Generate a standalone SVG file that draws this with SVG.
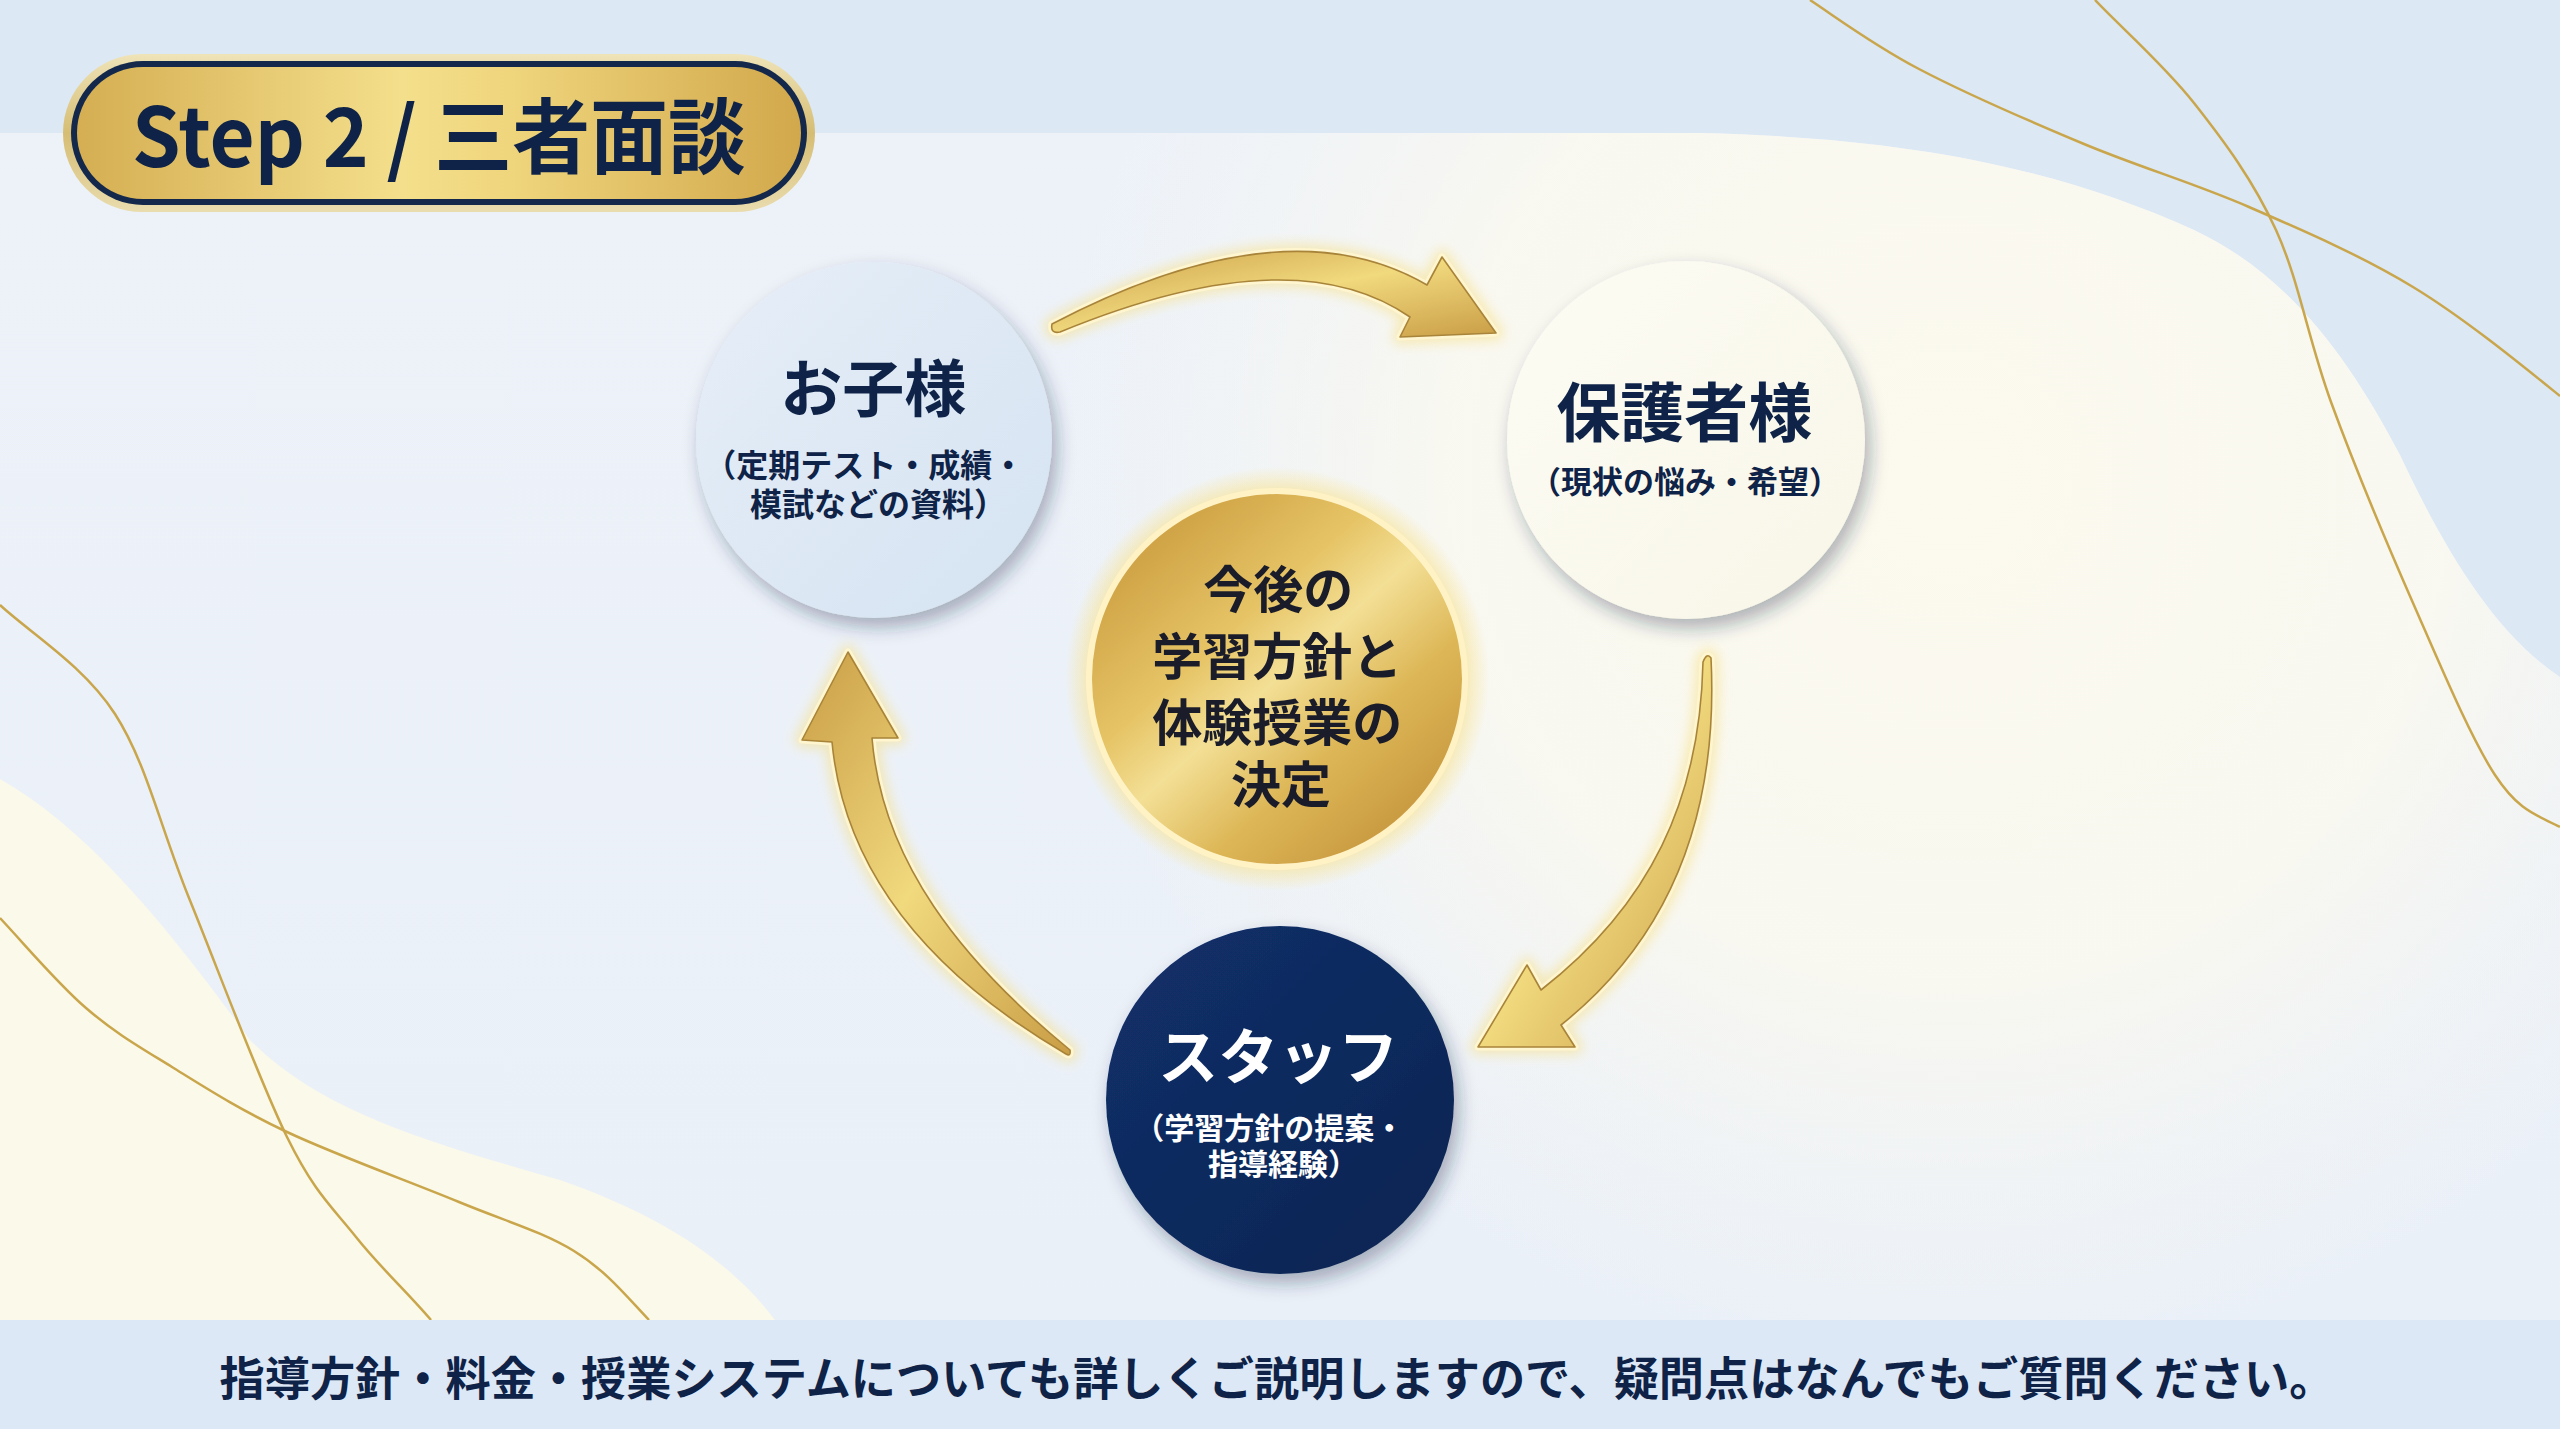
<svg xmlns="http://www.w3.org/2000/svg" width="2560" height="1429" viewBox="0 0 2560 1429">
<defs>
  <style>
    .jp { font-family: "Noto Sans CJK JP", "Noto Sans", sans-serif; font-weight: 700; }
    .navy { fill: #0e2347; }
    .gline { fill: none; stroke: #c9a64c; stroke-width: 2.5; }
    .arrowGlow { fill: none; stroke: #f6e08a; stroke-width: 16; stroke-linejoin: round; opacity: 0.55; filter: url(#blur6); }
    .arrowRim { fill: none; stroke: #fff5cf; stroke-width: 7; stroke-linejoin: round; }
    .arrowBody { fill: url(#arrowGold); stroke: #a8843a; stroke-width: 1.6; stroke-linejoin: round; }
  </style>
  <linearGradient id="mainBg" x1="0" y1="0" x2="0" y2="1">
    <stop offset="0" stop-color="#edf2f9"/>
    <stop offset="1" stop-color="#eaf0f8"/>
  </linearGradient>
  <radialGradient id="creamGlow" cx="1950" cy="480" r="900" gradientUnits="userSpaceOnUse">
    <stop offset="0" stop-color="#fcfaee" stop-opacity="1"/>
    <stop offset="0.55" stop-color="#fbf9ef" stop-opacity="0.85"/>
    <stop offset="1" stop-color="#f6f6f2" stop-opacity="0"/>
  </radialGradient>
  <linearGradient id="pillRim" x1="0" y1="0" x2="0" y2="1">
    <stop offset="0" stop-color="#efe4b8"/>
    <stop offset="0.5" stop-color="#d6bd74"/>
    <stop offset="1" stop-color="#e9dcae"/>
  </linearGradient>
  <linearGradient id="pillGold" x1="0" y1="0" x2="1" y2="0">
    <stop offset="0" stop-color="#d5ae52"/>
    <stop offset="0.45" stop-color="#f4df8c"/>
    <stop offset="0.6" stop-color="#efd57c"/>
    <stop offset="1" stop-color="#d2a84c"/>
  </linearGradient>
  <linearGradient id="arrowGold" x1="0" y1="0" x2="1" y2="1">
    <stop offset="0" stop-color="#c99d45"/>
    <stop offset="0.5" stop-color="#f1d97e"/>
    <stop offset="1" stop-color="#c99d45"/>
  </linearGradient>
  <linearGradient id="centerGold" x1="0.1" y1="0.05" x2="0.9" y2="0.95">
    <stop offset="0" stop-color="#c8993c"/>
    <stop offset="0.35" stop-color="#e6c466"/>
    <stop offset="0.5" stop-color="#f3df95"/>
    <stop offset="0.7" stop-color="#ddb757"/>
    <stop offset="1" stop-color="#c3913a"/>
  </linearGradient>
  <radialGradient id="centerHalo" cx="0.5" cy="0.5" r="0.5">
    <stop offset="0.85" stop-color="#f7e49a" stop-opacity="0.9"/>
    <stop offset="1" stop-color="#f7e49a" stop-opacity="0"/>
  </radialGradient>
  <linearGradient id="childFill" x1="0" y1="0" x2="1" y2="1">
    <stop offset="0" stop-color="#e6eef8"/>
    <stop offset="1" stop-color="#d5e3f1"/>
  </linearGradient>
  <linearGradient id="parentFill" x1="0" y1="0" x2="1" y2="1">
    <stop offset="0" stop-color="#fdfcf4"/>
    <stop offset="1" stop-color="#f8f6e8"/>
  </linearGradient>
  <linearGradient id="staffFill" x1="0" y1="0" x2="1" y2="1">
    <stop offset="0" stop-color="#13306a"/>
    <stop offset="1" stop-color="#0c2452"/>
  </linearGradient>
  <filter id="shadow" x="-20%" y="-20%" width="150%" height="150%">
    <feDropShadow dx="5" dy="9" stdDeviation="9" flood-color="#1c2c4c" flood-opacity="0.35"/>
  </filter>
  <filter id="blur6" x="-20%" y="-20%" width="140%" height="140%">
    <feGaussianBlur stdDeviation="6"/>
  </filter>
  <path id="arrowTop" d="M 1052 324 Q 1285 202 1427 285 L 1442 257 L 1496 333 L 1400 337 L 1410 317 Q 1293 236 1060 332 Q 1050 334 1052 324 Z"/>
  <path id="arrowRight" d="M 1711 658 C 1718 800 1680 930 1561 1025 L 1575 1047 L 1478 1047 L 1527 965 L 1541 990 C 1650 905 1700 800 1703 662 Q 1707 652 1711 658 Z"/>
  <path id="arrowLeft" d="M 1066 1054 C 940 980 845 880 832 742 L 802 740 L 848 652 L 898 738 L 872 738 C 882 860 960 960 1070 1050 Q 1071 1057 1066 1054 Z"/>
</defs>

<!-- background -->
<rect x="0" y="0" width="2560" height="1429" fill="#dce8f4"/>
<path d="M 0 133 L 1700 133 C 1900 138 2050 165 2194 230 C 2290 275 2350 360 2400 455 C 2440 540 2490 630 2560 677 L 2560 1320 L 0 1320 Z" fill="url(#mainBg)"/>
<path d="M 0 133 L 1700 133 C 1900 138 2050 165 2194 230 C 2290 275 2350 360 2400 455 C 2440 540 2490 630 2560 677 L 2560 1320 L 0 1320 Z" fill="url(#creamGlow)"/>
<path d="M 0 779 C 90 830 170 930 250 1040 C 320 1110 420 1140 560 1180 C 660 1215 730 1260 775 1320 L 0 1320 Z" fill="#fbf9e9"/>
<g id="gold-lines">
  <path class="gline" d="M 0 605 C 29.2 632.3 83.5 665.2 115 714 C 146.5 762.8 160.3 827.5 189 898 C 217.7 968.5 259.2 1080.5 287 1137 C 314.8 1193.5 332 1206.7 356 1237 C 380 1267.3 407 1291.8 431 1320"/>
  <path class="gline" d="M 0 918 C 27.7 947.7 57.3 983.2 86 1008 C 114.7 1032.8 138.5 1046.3 172 1067 C 205.5 1087.7 239.2 1109.5 287 1132 C 334.8 1154.5 411.2 1182.2 459 1202 C 506.8 1221.8 542.3 1231.5 574 1251 C 605.7 1270.5 624.7 1294.2 649 1320"/>
  <path class="gline" d="M 1810 0 C 1839.8 19.8 1873.3 45 1919 69 C 1964.7 93 2029 121 2084 144 C 2139 167 2194.2 183.2 2249 207 C 2303.8 230.8 2361.2 255.5 2413 287 C 2464.8 318.5 2522.2 365.5 2560 396"/>
  <path class="gline" d="M 2095 0 C 2120.7 27.2 2163.8 64.7 2194 103 C 2224.2 141.3 2253.2 180.2 2276 230 C 2298.8 279.8 2308.2 339.8 2331 402 C 2353.8 464.2 2385.7 540.8 2413 603 C 2440.3 665.2 2470.5 737.7 2495 775 C 2519.5 812.3 2537.5 815 2560 827"/>
</g>
<rect x="0" y="1320" width="2560" height="109" fill="#dce8f5"/>

<!-- title -->
<g id="title">
  <rect x="63" y="54" width="752" height="158" rx="79" fill="url(#pillRim)"/>
  <rect x="71" y="61" width="736" height="144" rx="72" fill="#13284b"/>
  <rect x="77" y="67" width="724" height="132" rx="66" fill="url(#pillGold)"/>
  <text class="jp navy" x="439" y="167" font-size="82" text-anchor="middle" textLength="614" lengthAdjust="spacingAndGlyphs">Step 2 / 三者面談</text>
</g>

<!-- connectors -->
<g id="connectors">
  <use href="#arrowTop" class="arrowGlow"/>
  <use href="#arrowRight" class="arrowGlow"/>
  <use href="#arrowLeft" class="arrowGlow"/>
  <use href="#arrowTop" class="arrowRim"/>
  <use href="#arrowRight" class="arrowRim"/>
  <use href="#arrowLeft" class="arrowRim"/>
  <use href="#arrowTop" class="arrowBody"/>
  <use href="#arrowRight" class="arrowBody"/>
  <use href="#arrowLeft" class="arrowBody"/>
</g>

<!-- nodes -->
<g id="node-child">
  <circle cx="874" cy="440" r="178" fill="url(#childFill)" filter="url(#shadow)"/>
  <text class="jp navy" text-anchor="middle">
    <tspan x="875" y="412" font-size="62">お子様</tspan>
    <tspan x="866" y="477" font-size="32">（定期テスト・成績・</tspan>
    <tspan x="878" y="516" font-size="32">模試などの資料）</tspan>
  </text>
</g>

<g id="node-parent">
  <circle cx="1686" cy="440" r="179" fill="url(#parentFill)" filter="url(#shadow)"/>
  <text class="jp navy" text-anchor="middle">
    <tspan x="1686" y="436" font-size="64">保護者様</tspan>
    <tspan x="1685" y="493" font-size="31">（現状の悩み・希望）</tspan>
  </text>
</g>

<g id="node-center">
  <circle cx="1277" cy="679" r="212" fill="url(#centerHalo)"/>
  <circle cx="1277" cy="679" r="191" fill="#fff3c6"/>
  <circle cx="1277" cy="679" r="185" fill="url(#centerGold)"/>
  <text class="jp" fill="#1a1c2a" text-anchor="middle" font-size="50">
    <tspan x="1284" y="608">今後の</tspan>
    <tspan x="1283" y="675">学習方針と</tspan>
    <tspan x="1283" y="741">体験授業の</tspan>
    <tspan x="1281" y="803">決定</tspan>
  </text>
</g>

<g id="node-staff">
  <circle cx="1280" cy="1100" r="174" fill="url(#staffFill)" filter="url(#shadow)"/>
  <text class="jp" fill="#ffffff" text-anchor="middle">
    <tspan x="1280" y="1079" font-size="60">スタッフ</tspan>
    <tspan x="1271" y="1139" font-size="30">（学習方針の提案・</tspan>
    <tspan x="1283" y="1175" font-size="30">指導経験）</tspan>
  </text>
</g>

<!-- footer -->
<g id="footer">
  <text class="jp navy" x="1277" y="1395" font-size="46" text-anchor="middle" textLength="2115" lengthAdjust="spacingAndGlyphs">指導方針・料金・授業システムについても詳しくご説明しますので、疑問点はなんでもご質問ください。</text>
</g>
</svg>
